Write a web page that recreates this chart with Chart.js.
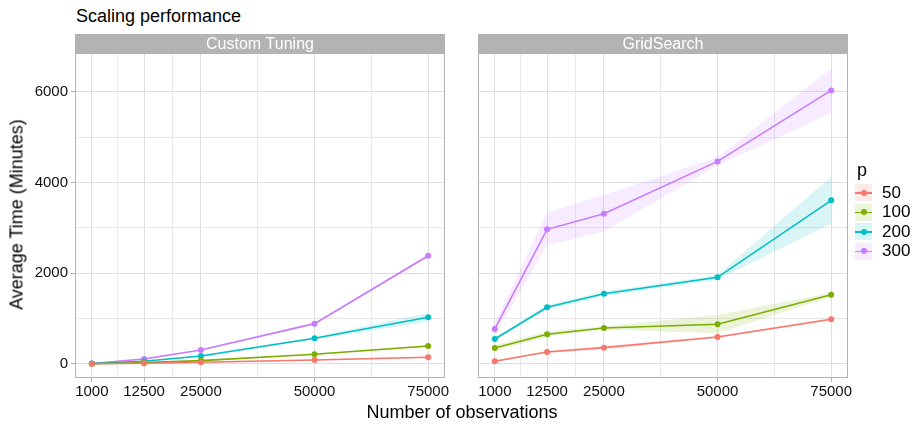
<!DOCTYPE html>
<html>
<head>
<meta charset="utf-8">
<script src="https://cdn.jsdelivr.net/npm/chart.js@4.4.1/dist/chart.umd.min.js"></script>
<style>
body{margin:0;background:#fff;font-family:"Liberation Sans",Arial,sans-serif;}
#wrap{position:relative;width:918px;height:424px;overflow:hidden;background:#fff;}
#c1{position:absolute;left:0;top:0;}
#c2{position:absolute;left:460px;top:0;}
#title{position:absolute;left:76px;top:6px;font-size:18px;color:#000;}
#xtitle{position:absolute;left:262px;width:400px;top:402px;text-align:center;font-size:18px;color:#000;}
#ytitle{position:absolute;left:-93px;top:204px;width:220px;text-align:center;font-size:18px;color:#000;transform:rotate(-90deg);}
#legend{position:absolute;left:855px;top:160px;font-size:17px;color:#000;}
#legend .lt{font-size:18px;margin-left:2px;margin-bottom:2px;}
#legend .row{height:19.5px;display:flex;align-items:center;}
#legend .key{position:relative;width:17px;height:17px;margin-right:10px;}
#legend .key .ln{position:absolute;left:0;right:0;top:8px;height:1.5px;}
#legend .key .pt{position:absolute;left:5.5px;top:5.5px;width:6px;height:6px;border-radius:50%;}
</style>
</head>
<body>
<div id="wrap">
  <div id="title">Scaling performance</div>
  <canvas id="c1" width="460" height="424"></canvas>
  <canvas id="c2" width="458" height="424"></canvas>
  <div id="ytitle">Average Time (Minutes)</div>
  <div id="xtitle">Number of observations</div>
  <div id="legend"></div>
</div>
<script>
// x values and tick breaks
const nObs = [1000, 12500, 25000, 50000, 75000];
const xBreaks = [1000, 12500, 25000, 50000, 75000];
const xMinor = [6750, 18750, 37500, 62500];
const yBreaks = [0, 2000, 4000, 6000];
const yMinor = [1000, 3000, 5000];
const pLevels = ['50', '100', '200', '300'];
const colors = ['#F8766D', '#7CAE00', '#00BFC4', '#C77CFF'];

// Custom Tuning: mean and ribbon bounds
const custom50 = [3, 15, 37, 88, 147];
const custom50Lo = [0, 8, 28, 75, 132];
const custom50Hi = [6, 22, 46, 101, 162];
const custom100 = [5, 30, 74, 213, 397];
const custom100Lo = [1, 20, 62, 195, 372];
const custom100Hi = [9, 40, 86, 231, 422];
const custom200 = [8, 60, 176, 566, 1029];
const custom200Lo = [3, 48, 160, 540, 930];
const custom200Hi = [13, 72, 192, 592, 1130];
const custom300 = [10, 110, 309, 889, 2388];
const custom300Lo = [4, 95, 290, 865, 2350];
const custom300Hi = [16, 125, 328, 913, 2426];

// GridSearch
const grid50 = [60, 265, 360, 595, 986];
const grid50Lo = [40, 240, 320, 570, 955];
const grid50Hi = [80, 290, 400, 620, 1015];
const grid100 = [353, 655, 794, 875, 1528];
const grid100Lo = [290, 600, 760, 680, 1485];
const grid100Hi = [420, 720, 830, 1080, 1570];
const grid200 = [551, 1250, 1550, 1911, 3610];
const grid200Lo = [520, 1200, 1500, 1860, 3100];
const grid200Hi = [580, 1300, 1600, 1960, 4130];
const grid300 = [772, 2970, 3314, 4469, 6035];
const grid300Lo = [640, 2620, 2920, 4380, 5530];
const grid300Hi = [900, 3340, 3730, 4560, 6520];

function alpha(hex, a){
    var r = parseInt(hex.substr(1,2),16), g = parseInt(hex.substr(3,2),16), b = parseInt(hex.substr(5,2),16);
    return 'rgba('+r+','+g+','+b+','+a+')';
}

function pts(vals){
    return nObs.map(function(x, i){ return {x: x, y: vals[i]}; });
}

function buildDatasets(means, lows, highs){
    var ds = [];
    for(var i = 0; i < means.length; i++){
        ds.push({data: pts(lows[i]), borderWidth: 0, borderColor: 'transparent', pointRadius: 0, fill: false});
        ds.push({data: pts(highs[i]), borderWidth: 0, borderColor: 'transparent', pointRadius: 0,
                 fill: '-1', backgroundColor: alpha(colors[i], 0.15)});
    }
    for(var i = 0; i < means.length; i++){
        ds.push({label: pLevels[i], data: pts(means[i]), borderColor: colors[i], borderWidth: 1.6,
                 pointRadius: 3, pointBackgroundColor: colors[i], pointBorderWidth: 0, fill: false});
    }
    return ds;
}

function stripPlugin(text){
    return {
        id: 'strip',
        afterDraw: function(chart){
            var a = chart.chartArea, ctx = chart.ctx;
            ctx.save();
            ctx.strokeStyle = '#b3b3b3';
            ctx.lineWidth = 1;
            ctx.strokeRect(a.left + 0.5, a.top + 0.5, a.right - a.left - 1, a.bottom - a.top - 1);
            ctx.fillStyle = '#b3b3b3';
            ctx.fillRect(a.left, 34, a.right - a.left, a.top - 34);
            ctx.fillStyle = '#ffffff';
            ctx.font = '16px "Liberation Sans", Arial';
            ctx.textAlign = 'center';
            ctx.textBaseline = 'middle';
            ctx.fillText(text, (a.left + a.right) / 2, (34 + a.top) / 2 + 1);
            ctx.restore();
        }
    };
}

function makeChart(id, means, lows, highs, text, showY, yWidth, padRight){
    var tickFont = {family: '"Liberation Sans", Arial', size: 15};
    return new Chart(document.getElementById(id).getContext('2d'), {
        type: 'line',
        data: {datasets: buildDatasets(means, lows, highs)},
        options: {
            responsive: false,
            animation: false,
            layout: {padding: {top: 53, right: padRight, left: 0, bottom: 0}},
            plugins: {legend: {display: false}, tooltip: {enabled: false}},
            scales: {
                x: {
                    type: 'linear', min: -2700, max: 78700,
                    afterBuildTicks: function(scale){
                        scale.ticks = xBreaks.concat(xMinor).sort(function(a,b){return a-b;}).map(function(v){ return {value: v}; });
                    },
                    afterFit: function(scale){ scale.height = 46; },
                    border: {display: false},
                    grid: {
                        color: function(c){ return xBreaks.indexOf(c.tick.value) >= 0 ? '#dedede' : '#e8e8e8'; },
                        lineWidth: 1,
                        tickLength: 4,
                        tickColor: function(c){ return xBreaks.indexOf(c.tick.value) >= 0 ? '#b3b3b3' : 'rgba(0,0,0,0)'; }
                    },
                    ticks: {
                        autoSkip: false, maxRotation: 0, padding: 1, color: '#111', font: tickFont,
                        callback: function(v){ return xBreaks.indexOf(v) >= 0 ? String(v) : ''; }
                    }
                },
                y: {
                    type: 'linear', min: -310, max: 6860,
                    afterBuildTicks: function(scale){
                        scale.ticks = yBreaks.concat(yMinor).sort(function(a,b){return a-b;}).map(function(v){ return {value: v}; });
                    },
                    afterFit: function(scale){ scale.width = yWidth; },
                    border: {display: false},
                    grid: {
                        color: function(c){ return yBreaks.indexOf(c.tick.value) >= 0 ? '#dedede' : '#e8e8e8'; },
                        lineWidth: 1,
                        drawTicks: showY,
                        tickLength: 4,
                        tickColor: function(c){ return yBreaks.indexOf(c.tick.value) >= 0 ? '#b3b3b3' : 'rgba(0,0,0,0)'; }
                    },
                    ticks: {
                        display: showY, padding: 3, color: '#111', font: tickFont,
                        callback: function(v){ return yBreaks.indexOf(v) >= 0 ? String(v) : ''; }
                    }
                }
            }
        },
        plugins: [stripPlugin(text)]
    });
}

makeChart('c1',
    [custom50, custom100, custom200, custom300],
    [custom50Lo, custom100Lo, custom200Lo, custom300Lo],
    [custom50Hi, custom100Hi, custom200Hi, custom300Hi],
    'Custom Tuning', true, 75, 15);

makeChart('c2',
    [grid50, grid100, grid200, grid300],
    [grid50Lo, grid100Lo, grid200Lo, grid300Lo],
    [grid50Hi, grid100Hi, grid200Hi, grid300Hi],
    'GridSearch', false, 18, 70);

// legend
var leg = document.getElementById('legend');
var html = '<div class="lt">p</div>';
for(var i = 0; i < pLevels.length; i++){
    html += '<div class="row"><div class="key" style="background:' + alpha(colors[i], 0.15) + '">' +
            '<div class="ln" style="background:' + colors[i] + '"></div>' +
            '<div class="pt" style="background:' + colors[i] + '"></div></div>' + pLevels[i] + '</div>';
}
leg.innerHTML = html;
</script>
</body>
</html>
